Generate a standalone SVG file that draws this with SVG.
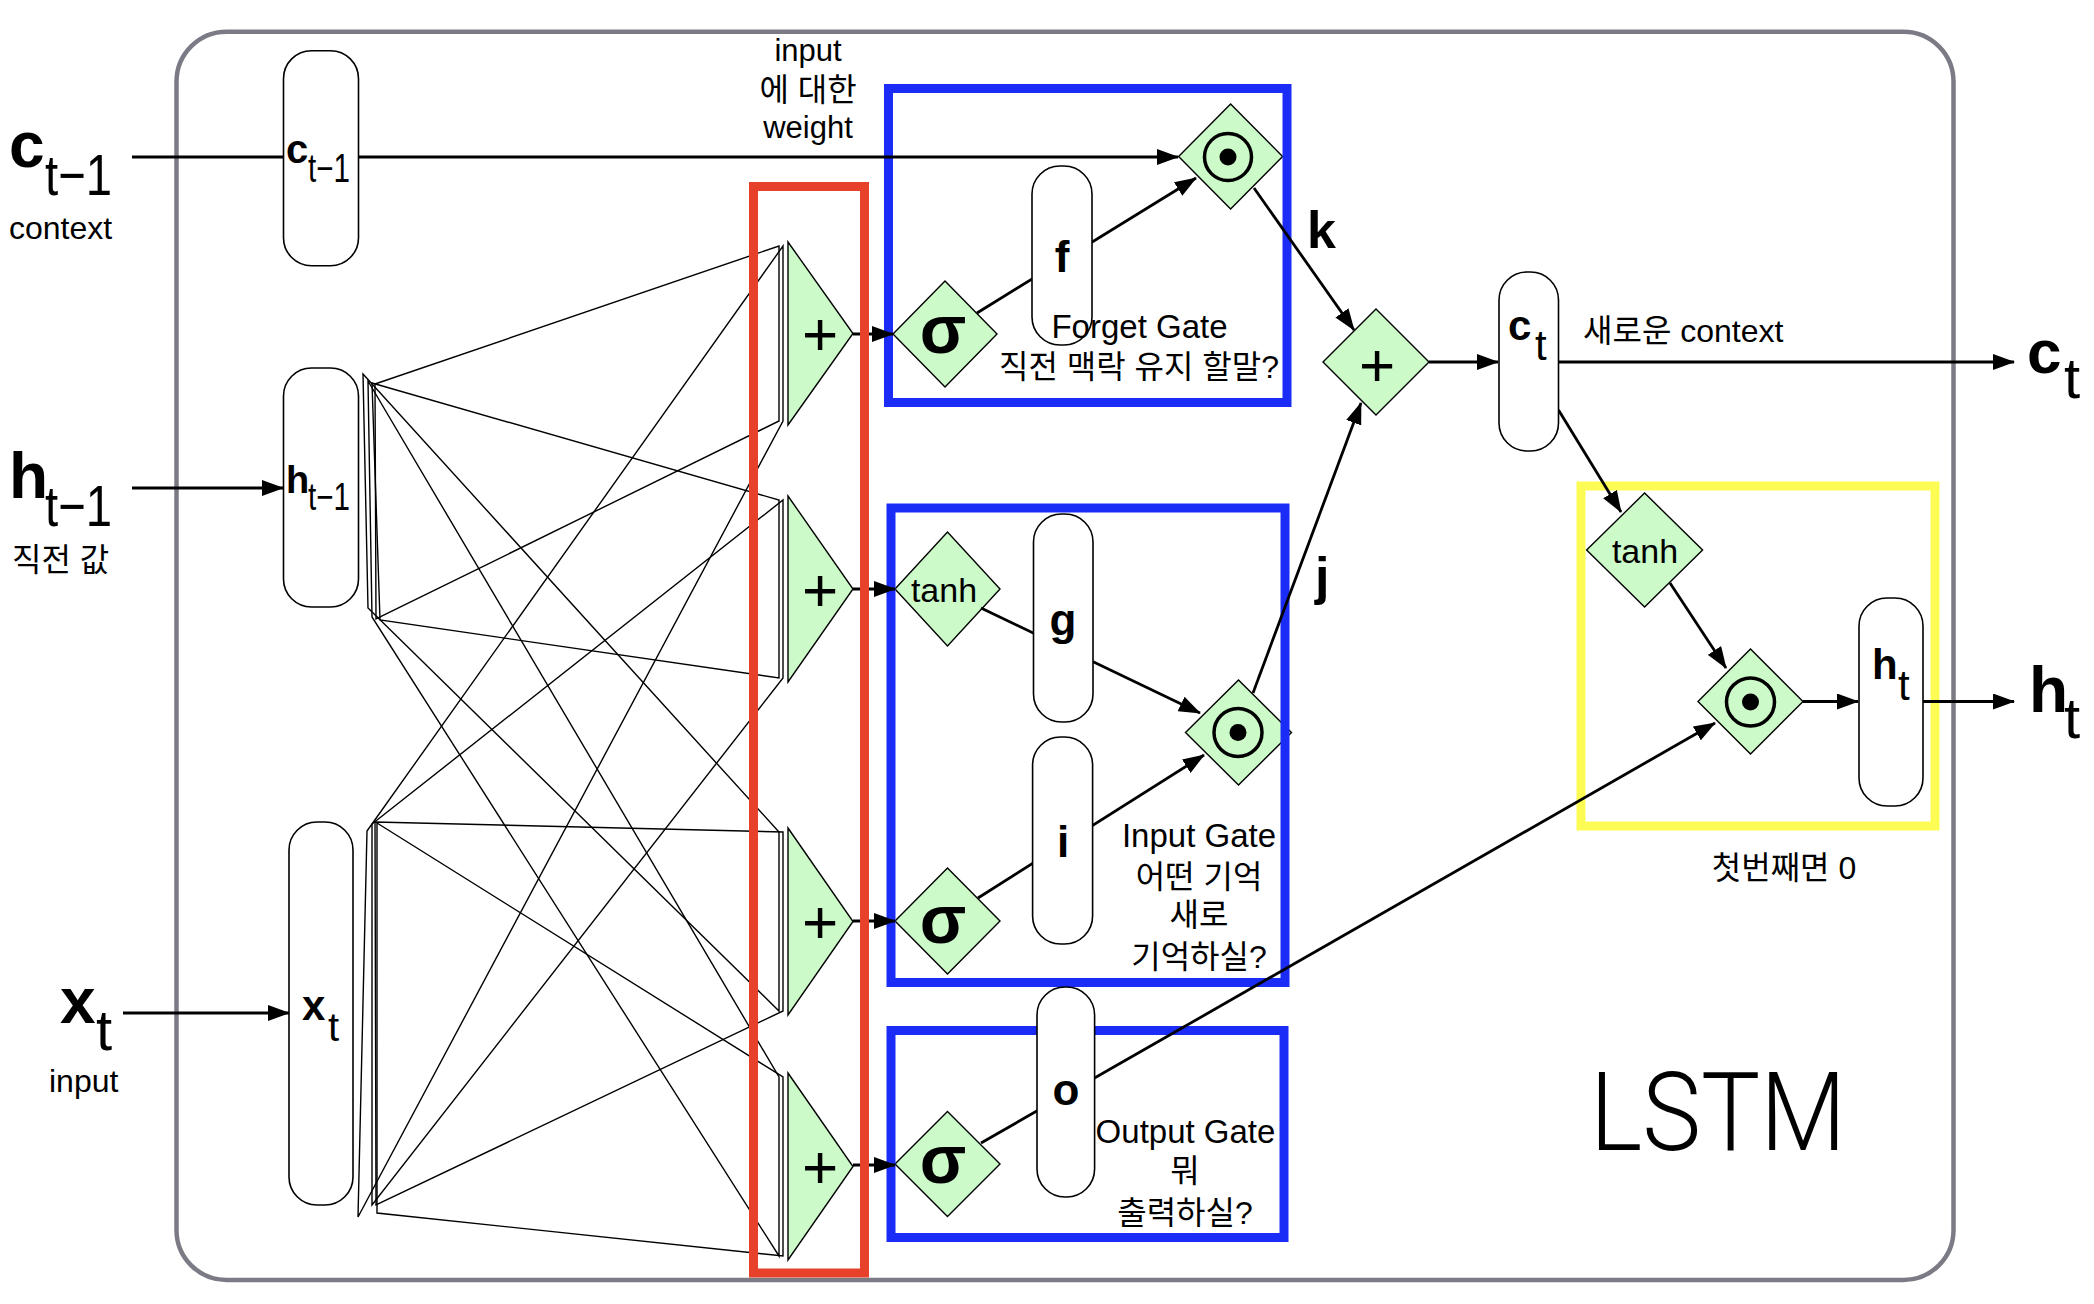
<svg xmlns="http://www.w3.org/2000/svg" width="2094" height="1304" viewBox="0 0 2094 1304">
<defs>
<marker id="arr" viewBox="0 0 22 16" markerWidth="22" markerHeight="16" refX="21" refY="8" orient="auto" markerUnits="userSpaceOnUse"><path d="M0,0 L22,8 L0,16 Z" fill="#000"/></marker>
</defs>
<style>
.frame{fill:#fff;stroke:#7b7b86;stroke-width:4.5}
.grn{fill:#ccfac8;stroke:#000;stroke-width:1.4}
.pill{fill:#fff;stroke:#000;stroke-width:1.6}
.wire{fill:none;stroke:#000;stroke-width:1.4}
.arrow{fill:none;stroke:#000;stroke-width:2.8;marker-end:url(#arr)}
.blue{fill:none;stroke:#1a2cf6;stroke-width:9}
.red{fill:none;stroke:#e8412b;stroke-width:9}
.yel{fill:none;stroke:#fdfc55;stroke-width:9}
.ring{fill:none;stroke:#000;stroke-width:3.5}
text{font-family:"Liberation Sans",Arial,"Noto Sans CJK KR",sans-serif;fill:#000}
.b{font-weight:bold}
.m{text-anchor:middle}
.lbl{font-size:31px}
.ko{font-size:32px}
.op{font-size:62px}
.sig{font-size:68px;font-weight:bold}
.th{font-size:34px}
.gl{font-size:44px;font-weight:bold}
</style>
<rect x="0" y="0" width="2094" height="1304" fill="#fff"/>

<g id="lstm-frame"><rect class="frame" x="176.5" y="31.7" width="1777" height="1248.3" rx="50"/></g>

<!-- summation triangles -->
<g id="sum-1"><polygon class="grn" points="788,242 853,333.5 788,425"/><text class="op m" x="820" y="355">+</text></g>
<g id="sum-2"><polygon class="grn" points="788,496 853,589 788,682"/><text class="op m" x="820" y="611">+</text></g>
<g id="sum-3"><polygon class="grn" points="788,828 853,921.5 788,1015"/><text class="op m" x="820" y="943">+</text></g>
<g id="sum-4"><polygon class="grn" points="788,1073 853,1166.5 788,1260"/><text class="op m" x="820" y="1188">+</text></g>

<!-- diamonds -->
<g id="sigma-forget"><polygon class="grn" points="893,334 945,281 997,334 945,387"/><text class="sig m" x="943" y="353">σ</text></g>
<g id="mul-forget"><polygon class="grn" points="1178.6,156.5 1230.6,104 1282.6,156.5 1230.6,209"/><circle class="ring" cx="1228" cy="157" r="23.5"/><circle cx="1228" cy="157" r="8.5"/></g>
<g id="add-cell"><polygon class="grn" points="1323,362 1376,309 1429,362 1376,415"/><text class="op m" x="1377" y="386">+</text></g>
<g id="tanh-input"><polygon class="grn" points="895,589 947.5,532 1000,589 947.5,646"/><text class="th m" x="944" y="602">tanh</text></g>
<g id="mul-input"><polygon class="grn" points="1185.5,732.5 1238.5,680 1291.5,732.5 1238.5,785"/><circle class="ring" cx="1238" cy="732.5" r="24"/><circle cx="1238" cy="732.5" r="8.5"/></g>
<g id="sigma-input"><polygon class="grn" points="895,921 947.5,868 1000,921 947.5,974"/><text class="sig m" x="943" y="943">σ</text></g>
<g id="sigma-output"><polygon class="grn" points="895,1164 947.5,1111.5 1000,1164 947.5,1216.5"/><text class="sig m" x="943" y="1183">σ</text></g>
<g id="tanh-output"><polygon class="grn" points="1586.6,550 1644.6,493 1702.6,550 1644.6,607"/><text class="th m" x="1645" y="563">tanh</text></g>
<g id="mul-output"><polygon class="grn" points="1698,701.5 1750.5,649 1803,701.5 1750.5,754"/><circle class="ring" cx="1750.5" cy="702" r="24"/><circle cx="1750.5" cy="702" r="8.5"/></g>

<!-- gate boxes -->
<g id="forget-gate-box"><rect class="blue" x="888.5" y="88.5" width="398.5" height="314"/></g>
<g id="input-gate-box"><rect class="blue" x="891" y="508" width="394" height="474.5"/></g>
<g id="output-gate-box"><rect class="blue" x="891" y="1030.5" width="393" height="207"/></g>
<g id="hidden-box"><rect class="yel" x="1581" y="486" width="354" height="340"/></g>

<g id="connectors">
<path class="wire" d="M375,384 L779,246 L779,421 L376,619 Z"/>
<path class="wire" d="M372,383 L779,500 L779,678 L380,620 Z"/>
<path class="wire" d="M363,374 L779,832 L779,1011 L368,608 Z"/>
<path class="wire" d="M368,381 L779,1077 L779,1256 L372,617 Z"/>
<path class="wire" d="M367,831 L783,246 L783,421 L358,1217 Z"/>
<path class="wire" d="M372,824 L783,500 L783,678 L372,1205 Z"/>
<path class="wire" d="M375,822 L783,832 L783,1011 L376,1205 Z"/>
<path class="wire" d="M377,823 L783,1077 L783,1256 L377,1213 Z"/>
<path class="arrow" d="M853,334 L893,334"/>
<path class="arrow" d="M853,589 L895,589"/>
<path class="arrow" d="M853,921 L895,921"/>
<path class="arrow" d="M853,1165 L895,1165"/>
<path class="arrow" d="M132,157 L1178,157"/>
<path class="arrow" d="M132,488 L283,488"/>
<path class="arrow" d="M123,1013 L289,1013"/>
<path class="arrow" d="M977,313 L1196,178"/>
<path class="arrow" d="M1254,188 L1354,330"/>
<path class="arrow" d="M981,608 L1200,713"/>
<path class="arrow" d="M978,898 L1204,755"/>
<path class="arrow" d="M1253,693 L1361,403"/>
<path class="arrow" d="M1429,362 L1498,362"/>
<path class="arrow" d="M1558.5,362 L2014,362"/>
<path class="arrow" d="M1558.5,410 L1621,512"/>
<path class="arrow" d="M1670,583 L1726,668"/>
<path class="arrow" d="M981,1143 L1715,723"/>
<path class="arrow" d="M1803,701.5 L1858,701.5"/>
<path class="arrow" d="M1923,701.5 L2014,701.5"/>
</g>

<g id="linear-box"><rect class="red" x="753.5" y="186.5" width="111" height="1086.5"/></g>

<!-- vector pills -->
<g id="c-prev"><rect class="pill" x="283.5" y="50.7" width="75" height="215" rx="28"/><text class="b" x="286" y="163" font-size="40">c</text><text x="308" y="182" font-size="40" textLength="42" lengthAdjust="spacingAndGlyphs">t−1</text></g>
<g id="h-prev"><rect class="pill" x="283.5" y="368" width="75" height="239" rx="28"/><text class="b" x="286" y="493" font-size="38">h</text><text x="308" y="510" font-size="38" textLength="42" lengthAdjust="spacingAndGlyphs">t−1</text></g>
<g id="x-t"><rect class="pill" x="289" y="822" width="64" height="383" rx="28"/><text class="b" x="302" y="1020" font-size="42">x</text><text x="328" y="1041" font-size="40">t</text></g>
<g id="f"><rect class="pill" x="1032" y="166" width="60" height="179" rx="28"/><text class="gl m" x="1062" y="272">f</text></g>
<g id="g"><rect class="pill" x="1033.5" y="514" width="59.5" height="208" rx="28"/><text class="gl m" x="1063" y="635">g</text></g>
<g id="i"><rect class="pill" x="1032.6" y="737" width="60" height="207" rx="28"/><text class="gl m" x="1063" y="857">i</text></g>
<g id="o"><rect class="pill" x="1037" y="987" width="57.6" height="210" rx="28"/><text class="gl m" x="1066" y="1105">o</text></g>
<g id="c-t"><rect class="pill" x="1499" y="272" width="59.5" height="179" rx="28"/><text class="b" x="1508" y="340" font-size="42">c</text><text x="1535" y="360" font-size="42">t</text></g>
<g id="h-t"><rect class="pill" x="1859" y="598" width="64" height="208" rx="28"/><text class="b" x="1872" y="679" font-size="42">h</text><text x="1898" y="700" font-size="42">t</text></g>

<!-- outer labels -->
<g id="label-c-prev"><text class="b" x="9" y="167" font-size="64">c</text><text x="45" y="195" font-size="58" textLength="67" lengthAdjust="spacingAndGlyphs">t−1</text><text x="9" y="239" font-size="32">context</text></g>
<g id="label-h-prev"><text class="b" x="9" y="498" font-size="64">h</text><text x="45" y="526" font-size="58" textLength="67" lengthAdjust="spacingAndGlyphs">t−1</text><text class="ko" x="12" y="571">직전 값</text></g>
<g id="label-x-t"><text class="b" x="60" y="1023" font-size="64">x</text><text x="96" y="1050" font-size="58">t</text><text x="49" y="1092" font-size="32">input</text></g>
<g id="label-c-t"><text class="b" x="2027" y="373" font-size="62">c</text><text x="2064" y="398" font-size="58">t</text></g>
<g id="label-h-t"><text class="b" x="2029" y="712" font-size="64">h</text><text x="2064" y="738" font-size="58">t</text></g>

<g id="annotations">
<text class="lbl m" x="808" y="61">input</text>
<text class="ko m" x="808" y="101">에 대한</text>
<text class="lbl m" x="808" y="138">weight</text>
<text class="b" x="1307" y="248" font-size="52">k</text>
<text class="b" x="1315" y="594" font-size="52">j</text>
<text class="m" x="1139.5" y="338" font-size="33">Forget Gate</text>
<text class="ko m" x="1139" y="378">직전 맥락 유지 할말?</text>
<text class="m" x="1199" y="847" font-size="33">Input Gate</text>
<text class="ko m" x="1199" y="888">어떤 기억</text>
<text class="ko m" x="1199" y="926">새로</text>
<text class="ko m" x="1199" y="968">기억하실?</text>
<text class="m" x="1185.5" y="1143" font-size="33">Output Gate</text>
<text class="ko m" x="1185" y="1182">뭐</text>
<text class="ko m" x="1185" y="1224">출력하실?</text>
<text class="ko" x="1583" y="342">새로운 context</text>
<text class="ko m" x="1784" y="879">첫번째면 0</text>
<text x="1590" y="1150" font-size="110" textLength="256" lengthAdjust="spacingAndGlyphs" style="font-family:Roboto,'Liberation Sans',sans-serif;font-weight:300">LSTM</text>
</g>
</svg>
